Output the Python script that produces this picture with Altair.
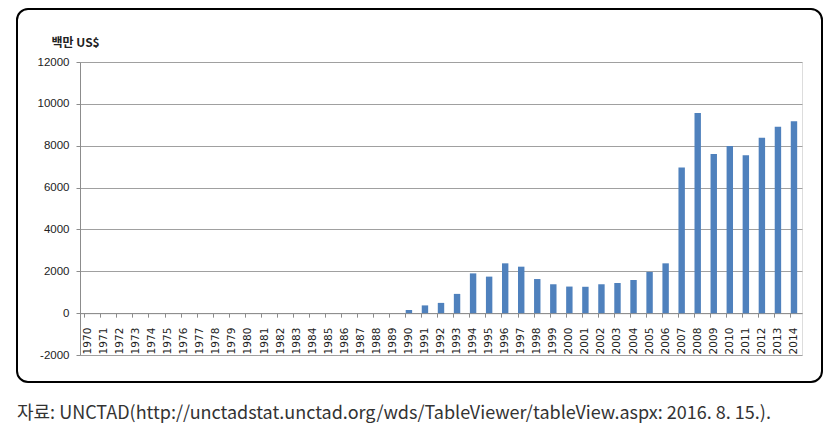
import altair as alt
import pandas as pd

years = [str(y) for y in range(1970, 2015)]
values = [0, 0, 0, 0, 0, 0, 0, 0, 0, 0,
          0, 0, 0, 0, 0, 0, 0, 0, 0, 0,
          150, 370, 490, 920, 1900, 1745, 2380, 2220, 1630, 1380,
          1270, 1260, 1380, 1440, 1585, 1970, 2380, 6960, 9560, 7600,
          7990, 7540, 8380, 8910, 9170]
y_ticks = [-2000, 0, 2000, 4000, 6000, 8000, 10000, 12000]
y_unit = "백만 US$"
source = "자료: UNCTAD(http://unctadstat.unctad.org/wds/TableViewer/tableView.aspx: 2016. 8. 15.)."

df = pd.DataFrame({"year": years, "value": values})

W, H = 722, 293
ymin, ymax = -2000, 12000
x_offset = -H * (0 - ymin) / (ymax - ymin)

bars = alt.Chart(df).mark_bar(color="#4f81bd").encode(
    x=alt.X("year:O", sort=years,
            scale=alt.Scale(paddingInner=0.6, paddingOuter=0.3),
            axis=alt.Axis(title=None, labelAngle=-90, offset=x_offset,
                          domainColor="#8c8c8c", tickColor="#8c8c8c",
                          tickSize=4, bandPosition=0, labelPadding=10,
                          labelFont="DejaVu Sans", labelFontSize=10.5,
                          labelColor="#222222", grid=False)),
    y=alt.Y("value:Q", scale=alt.Scale(domain=[ymin, ymax], nice=False),
            axis=alt.Axis(values=y_ticks, title=y_unit, titleAngle=0,
                          titleX=-29, titleY=-16, titleAlign="left",
                          titleBaseline="alphabetic", titleFontSize=12,
                          titleFont="Noto Sans CJK KR", titleFontWeight="bold",
                          titleColor="#222222",
                          labelFont="Liberation Sans", labelFontSize=11.5,
                          labelColor="#222222", labelPadding=7,
                          labelExpr="'' + datum.value",
                          tickSize=4, tickColor="#8c8c8c", domainColor="#8c8c8c",
                          grid=True, gridColor="#a0a0a0")),
)

one = pd.DataFrame({"a": [0]})
frame = alt.Chart(one).mark_rect(fill=None, stroke="#000000", strokeWidth=2,
                                  cornerRadius=11).encode(
    x=alt.value(-63), x2=alt.value(742), y=alt.value(-53), y2=alt.value(320)
)

caption = alt.Chart(one).mark_text(align="left", baseline="alphabetic",
                                   font="Noto Sans CJK KR", fontSize=18,
                                   color="#333333").encode(
    x=alt.value(-63), y=alt.value(357), text=alt.value(source)
)

chart = alt.layer(bars, frame, caption).properties(
    width=W, height=H,
    autosize=alt.AutoSizeParams(type="none"),
    padding={"left": 80, "top": 62, "right": 35, "bottom": 79},
).configure_view(stroke=None).configure(background="white")

chart.save("out.html", embed_options={"renderer": "svg", "actions": False})
